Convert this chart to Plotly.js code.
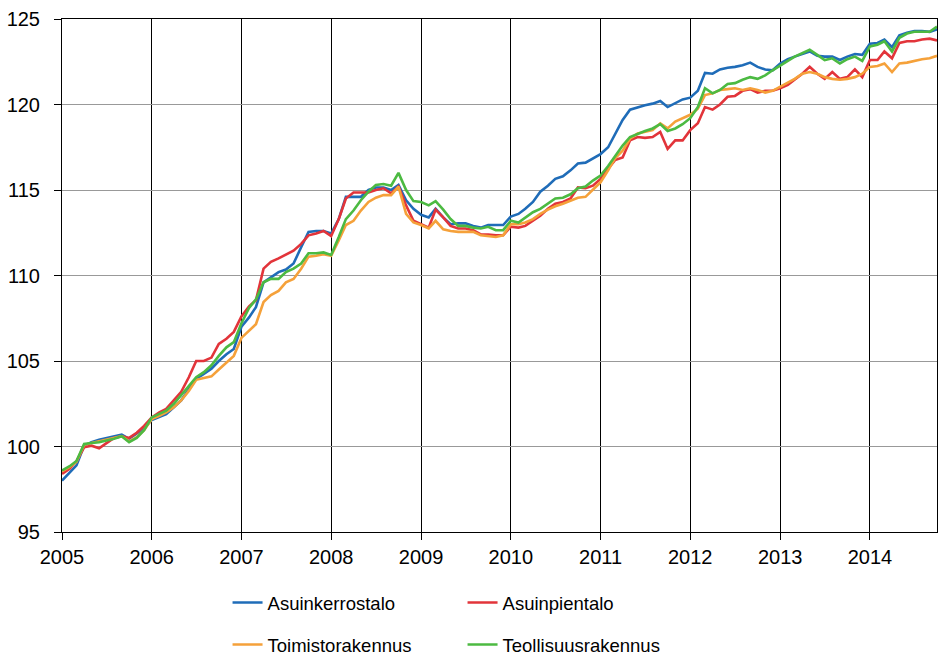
<!DOCTYPE html>
<html>
<head>
<meta charset="utf-8">
<script src="https://cdn.plot.ly/plotly-3.0.1.min.js"></script>
<style>html,body{margin:0;padding:0;background:#fff;}#chart{width:943px;height:659px;}</style>
</head>
<body>
<div id="chart"></div>
<script>
// Monthly index values, Jan 2005 - Oct 2014 (118 months)
const startYear = 2005;
const monthCount = 118;

const asuinkerrostalo = [
  98.0, 98.5, 98.9, 100.05, 100.25, 100.4, 100.5, 100.6, 100.7, 100.45, 100.75, 101.05,
  101.55, 101.75, 101.9, 102.3, 102.7, 103.35, 103.95, 104.25, 104.55, 105.0, 105.4, 105.7,
  107.0, 107.55, 108.15, 109.6, 109.9, 110.2, 110.35, 110.7, 111.65, 112.55, 112.6, 112.6,
  112.45, 113.3, 114.6, 114.6, 114.6, 115.0, 115.15, 115.15, 115.0, 115.3, 114.4, 113.9,
  113.55, 113.4, 113.9, 113.4, 113.0, 113.05, 113.05, 112.9, 112.8, 112.95, 112.95, 112.95,
  113.45, 113.6, 113.9, 114.3, 114.9, 115.25, 115.65, 115.8, 116.15, 116.55, 116.6, 116.85,
  117.1, 117.5, 118.3, 119.1, 119.7, 119.85, 119.95, 120.05, 120.2, 119.85, 120.1, 120.3,
  120.4, 120.8, 121.85, 121.8, 122.05, 122.15, 122.2, 122.3, 122.45, 122.2, 122.05, 122.0,
  122.4, 122.65, 122.8, 122.95, 123.1, 122.85, 122.8, 122.8, 122.6, 122.8, 122.95, 122.9,
  123.55, 123.6, 123.8, 123.35, 124.05, 124.2, 124.3, 124.3, 124.25, 124.4
];
const asuinpientalo = [
  98.4, 98.7, 99.15, 99.95, 100.05, 99.9, 100.2, 100.5, 100.6, 100.5, 100.8, 101.2,
  101.7, 102.0, 102.2, 102.7, 103.2, 104.05, 105.0, 105.0, 105.2, 106.0, 106.3, 106.7,
  107.6, 108.2, 108.55, 110.4, 110.8, 111.0, 111.2, 111.45, 111.85, 112.35, 112.45, 112.6,
  112.3, 113.3, 114.5, 114.85, 114.85, 114.85, 115.0, 115.1, 114.8, 115.2, 114.1, 113.2,
  113.0, 112.8, 113.85, 113.4, 112.9, 112.75, 112.75, 112.65, 112.4, 112.4, 112.35, 112.35,
  112.85, 112.8, 112.9, 113.2, 113.5, 113.9, 114.2, 114.3, 114.5, 115.15, 115.1, 115.25,
  115.65, 116.25, 116.75, 116.9, 117.9, 118.1, 118.05, 118.1, 118.4, 117.4, 117.9, 117.9,
  118.5, 118.9, 119.85, 119.7, 120.0, 120.45, 120.5, 120.8, 120.9, 120.7, 120.8, 120.8,
  120.95, 121.15, 121.45, 121.8, 122.2, 121.8, 121.5, 121.9, 121.5, 121.6, 122.05, 121.6,
  122.6, 122.6, 123.1, 122.7, 123.6, 123.7, 123.7, 123.8, 123.85, 123.75
];
const toimistorakennus = [
  98.55, 98.8, 99.1, 100.1, 100.2, 100.3, 100.4, 100.5, 100.6, 100.3, 100.55, 100.95,
  101.6, 101.8, 102.0, 102.3, 102.7, 103.25, 103.9, 104.0, 104.1, 104.5, 104.9, 105.3,
  106.35, 106.8, 107.15, 108.45, 108.85, 109.1, 109.6, 109.8, 110.4, 111.1, 111.15, 111.25,
  111.15, 112.05, 112.95, 113.2, 113.8, 114.3, 114.55, 114.7, 114.7, 115.2, 113.6, 113.1,
  112.95, 112.75, 113.2, 112.7, 112.6, 112.55, 112.55, 112.55, 112.35, 112.3, 112.25, 112.35,
  113.0, 113.0, 113.1, 113.3, 113.6, 113.85, 114.05, 114.2, 114.4, 114.55, 114.6, 115.0,
  115.45, 116.15, 116.85, 117.3, 118.0, 118.3, 118.4, 118.5, 118.9, 118.6, 119.0, 119.2,
  119.4, 119.75, 120.55, 120.65, 120.85, 120.9, 120.95, 120.85, 120.95, 120.85, 120.7, 120.8,
  121.05, 121.3, 121.5, 121.8, 121.9, 121.8, 121.6, 121.5, 121.45, 121.5, 121.6, 121.8,
  122.2, 122.25, 122.4, 121.9, 122.4, 122.45, 122.55, 122.65, 122.7, 122.85
];
const teollisuusrakennus = [
  98.6, 98.85, 99.15, 100.15, 100.2, 100.25, 100.35, 100.45, 100.6, 100.25, 100.5, 100.95,
  101.7, 101.9, 102.1, 102.5, 103.0, 103.55, 104.05, 104.35, 104.75, 105.3, 105.8, 106.1,
  107.2, 108.1, 108.6, 109.6, 109.8, 109.8, 110.2, 110.4, 110.7, 111.3, 111.3, 111.35,
  111.2, 112.25, 113.3, 113.8, 114.4, 114.9, 115.3, 115.35, 115.25, 116.0, 115.0, 114.35,
  114.3, 114.1, 114.35, 113.85, 113.3, 112.9, 112.9, 112.8, 112.75, 112.85, 112.65, 112.65,
  113.2, 113.1, 113.4, 113.7, 113.9, 114.2, 114.5, 114.55, 114.75, 115.1, 115.2, 115.55,
  115.85, 116.4, 117.0, 117.6, 118.1, 118.3, 118.45, 118.6, 118.85, 118.45, 118.6, 118.85,
  119.2, 119.85, 120.95, 120.65, 120.85, 121.2, 121.25, 121.45, 121.6, 121.5, 121.7, 122.0,
  122.3, 122.55, 122.8, 123.0, 123.2, 122.9, 122.6, 122.7, 122.4, 122.65, 122.8, 122.55,
  123.4, 123.5, 123.7, 123.1, 123.9, 124.15, 124.25, 124.25, 124.25, 124.55
];

const seriesNames = ["Asuinkerrostalo", "Asuinpientalo", "Toimistorakennus", "Teollisuusrakennus"];
const yearTicks = [2005, 2006, 2007, 2008, 2009, 2010, 2011, 2012, 2013, 2014];
const yTicks = [95, 100, 105, 110, 115, 120, 125];

const months = [];
for (let i = 0; i < monthCount; i++) {
  const y = startYear + Math.floor(i / 12);
  const m = (i % 12) + 1;
  months.push(y + "-" + String(m).padStart(2, "0") + "-01");
}

const colors = ["#1f6cb8", "#e2343a", "#f5a13a", "#4cba42"];
const values = [asuinkerrostalo, asuinpientalo, toimistorakennus, teollisuusrakennus];
const legends = ["legend", "legend", "legend2", "legend2"];

const traces = values.map((v, k) => ({
  type: "scatter", mode: "lines", x: months, y: v, name: seriesNames[k],
  line: { color: colors[k], width: 2.6 }, legend: legends[k]
}));

const font = { family: "Liberation Sans, Arial, sans-serif", size: 20, color: "#000" };
const legendBase = {
  orientation: "h", xref: "container", yref: "container",
  xanchor: "left", yanchor: "middle",
  entrywidth: 190, entrywidthmode: "pixels",
  font: { family: "Liberation Sans, Arial, sans-serif", size: 18.5, color: "#000" },
  bgcolor: "rgba(0,0,0,0)", traceorder: "normal"
};

const layout = {
  width: 943, height: 659,
  margin: { l: 62, r: 6, t: 19, b: 127 },
  paper_bgcolor: "#fff", plot_bgcolor: "#fff",
  font: font,
  showlegend: true,
  xaxis: {
    type: "date",
    range: [months[0], months[months.length - 1]],
    tickvals: yearTicks.map(y => y + "-01-01"),
    ticktext: yearTicks.map(String),
    ticks: "outside", ticklen: 7, tickcolor: "#000", tickwidth: 1,
    showgrid: true, gridcolor: "#000", gridwidth: 1,
    showline: true, linecolor: "#000", linewidth: 1, mirror: true,
    zeroline: false, tickfont: font, fixedrange: true
  },
  yaxis: {
    range: [95, 125],
    tickvals: yTicks,
    ticks: "outside", ticklen: 7, tickcolor: "#000", tickwidth: 1,
    showgrid: true, gridcolor: "#999", gridwidth: 1,
    showline: true, linecolor: "#000", linewidth: 1, mirror: true,
    zeroline: false, tickfont: font, ticklabelstandoff: 10, fixedrange: true
  },
  legend: Object.assign({}, legendBase, { x: 0.2413, y: 1 - 603 / 659 }),
  legend2: Object.assign({}, legendBase, { x: 0.2413, y: 1 - 645 / 659 })
};

Plotly.newPlot("chart", traces, layout, { displayModeBar: false, staticPlot: true });
</script>
</body>
</html>
